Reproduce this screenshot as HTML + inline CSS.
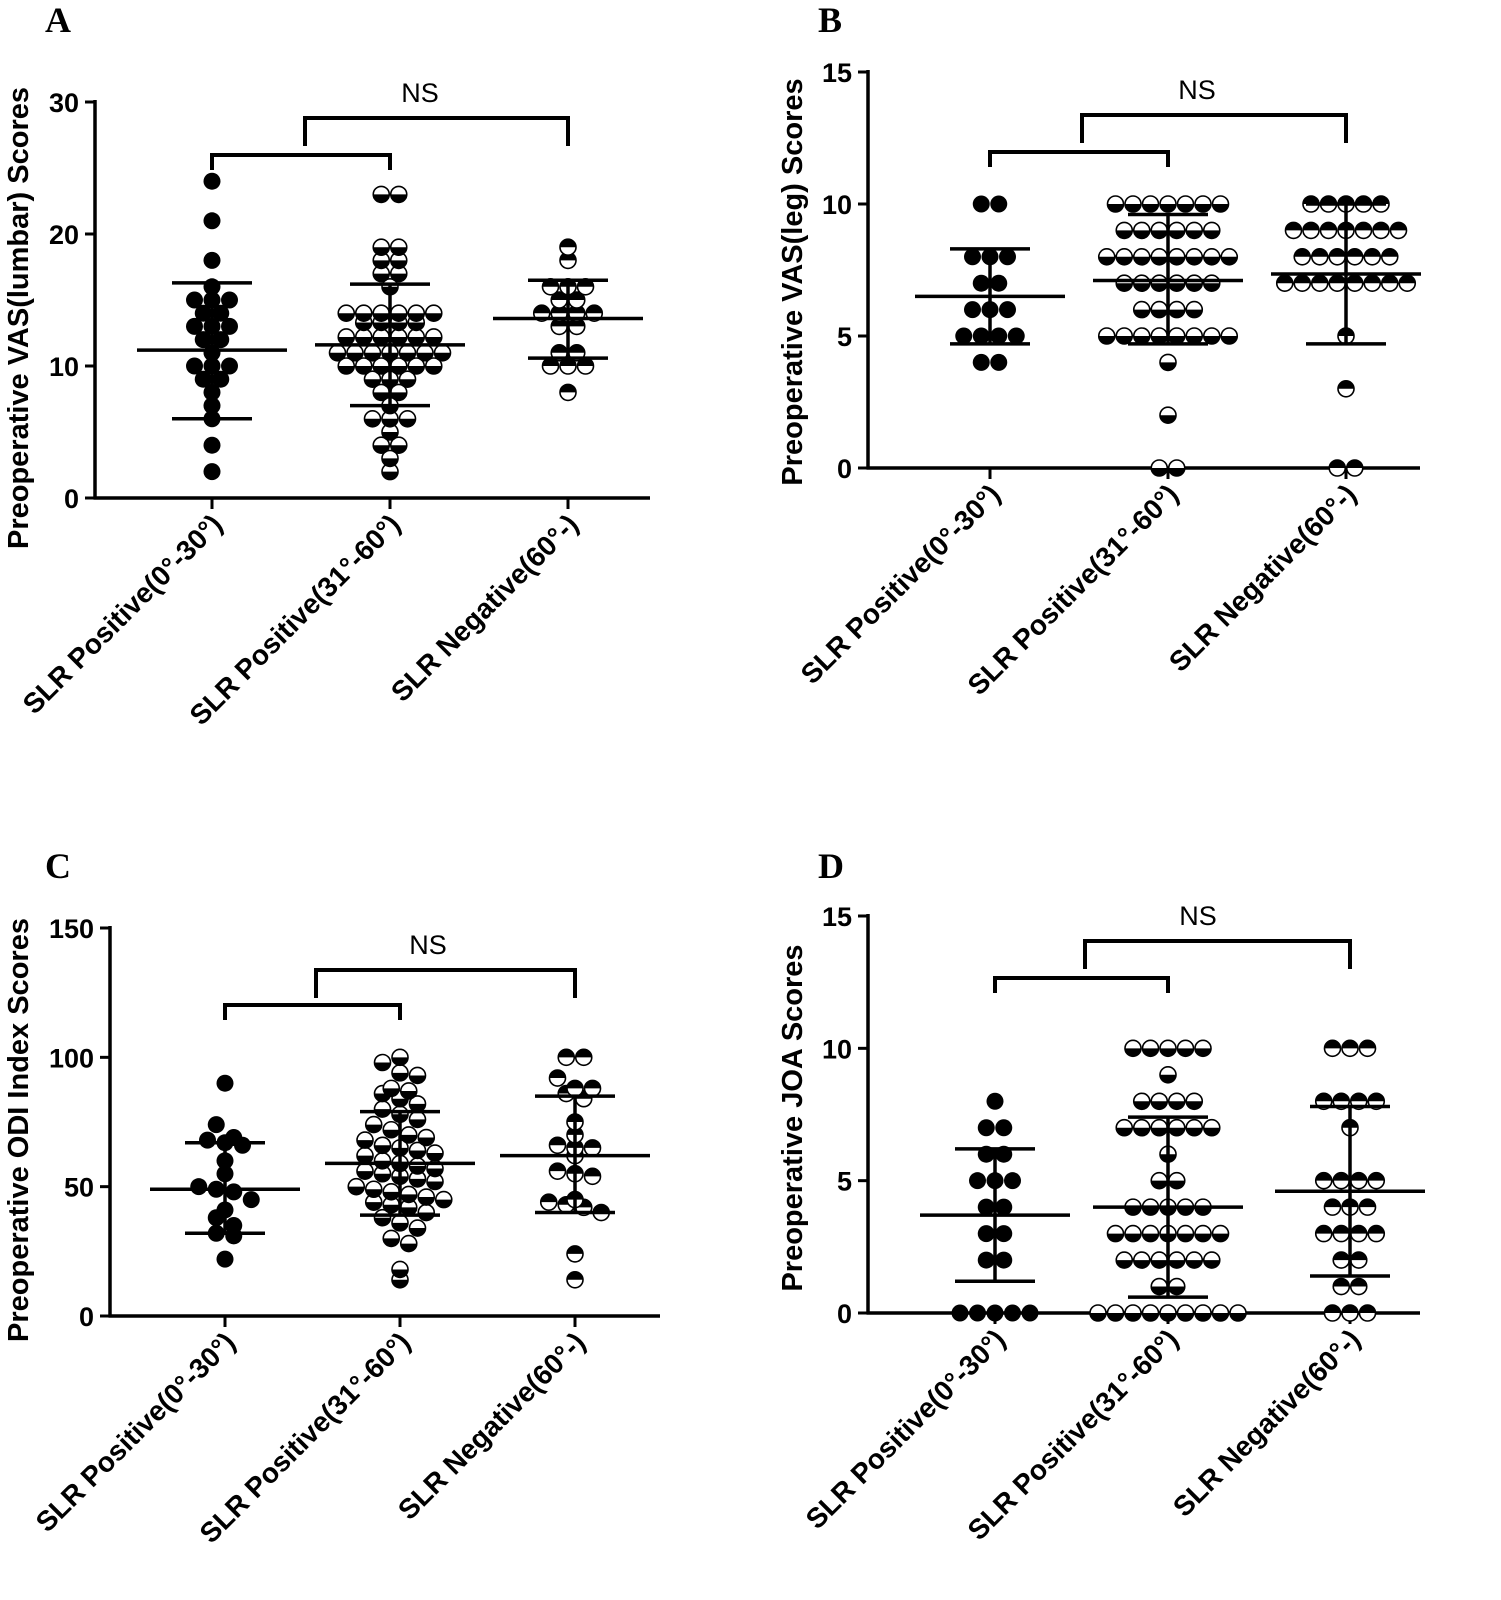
<!DOCTYPE html><html><head><style>body{margin:0;background:#fff}svg{display:block}text{font-family:"Liberation Sans",Arial,sans-serif;font-weight:bold}</style></head><body>
<svg id="s" width="1501" height="1600" viewBox="0 0 1501 1600" xmlns="http://www.w3.org/2000/svg">
<text x="45" y="32" font-size="36" style="font-family:'Liberation Serif',serif">A</text>
<text x="818" y="32" font-size="36" style="font-family:'Liberation Serif',serif">B</text>
<text x="45" y="878" font-size="36" style="font-family:'Liberation Serif',serif">C</text>
<text x="818" y="878" font-size="36" style="font-family:'Liberation Serif',serif">D</text>
<text transform="translate(28,318) rotate(-90)" font-size="29" text-anchor="middle">Preoperative VAS(lumbar) Scores</text>
<text transform="translate(802,282) rotate(-90)" font-size="29" text-anchor="middle">Preoperative VAS(leg) Scores</text>
<text transform="translate(28,1130) rotate(-90)" font-size="29" text-anchor="middle">Preoperative ODI Index Scores</text>
<text transform="translate(802,1118) rotate(-90)" font-size="29" text-anchor="middle">Preoperative JOA Scores</text>
<g id="g"></g>
</svg>
<script>
var g=document.getElementById('g'),NS='http://www.w3.org/2000/svg';
function el(t,a,txt){var e=document.createElementNS(NS,t);for(var k in a)e.setAttribute(k,a[k]);if(txt)e.textContent=txt;g.appendChild(e);return e;}
function line(x1,y1,x2,y2,w){el('line',{x1:x1,y1:y1,x2:x2,y2:y2,stroke:'#000','stroke-width':w||3.5});}
function rep(v,n){var a=[];for(var i=0;i<n;i++)a.push(v);return a;}
function panel(P){
 var y=function(v){return P.y0+(P.y1-P.y0)*v/P.max;};
 line(P.ax,P.y1-2,P.ax,y(0)+1.5);line(P.ax-1.5,y(0),P.xe,y(0));
 P.ticks.forEach(function(t){line(P.ax-10,y(t),P.ax,y(t),3);el('text',{x:P.ax-16,y:y(t)+10,'font-size':27,'text-anchor':'end'},String(t));});
 var labs=['SLR Positive(0°-30°)','SLR Positive(31°-60°)','SLR Negative(60°-)'];
 P.gx.forEach(function(gx,i){line(gx,y(0),gx,y(0)+11,3);
  el('text',{transform:'translate('+(gx+12)+','+(y(0)+28)+') rotate(-45)','font-size':28,'text-anchor':'end'},labs[i]);
  var d=P.data[i],bins={};
  d.forEach(function(v){var b=Math.round(v/P.bin);(bins[b]=bins[b]||[]).push(v);});
  for(var b in bins){var arr=bins[b],n=arr.length;arr.forEach(function(v,j){var cx=gx+(j-(n-1)/2)*17.5,cy=y(v);
   if(i==0)el('circle',{cx:cx,cy:cy,r:8.5,fill:'#000'});
   else{el('circle',{cx:cx,cy:cy,r:8,fill:'#fff',stroke:'#000','stroke-width':1.6});
    var s=i==1?0:1; el('path',{d:'M'+(cx-8)+','+cy+' A8,8 0 0,'+s+' '+(cx+8)+','+cy+' Z',fill:'#000'});}
  });}
  var m=P.m[i];line(gx-75,y(m[0]),gx+75,y(m[0]),3.5);line(gx,y(m[1]),gx,y(m[2]),3.5);line(gx-40,y(m[1]),gx+40,y(m[1]),3.5);line(gx-40,y(m[2]),gx+40,y(m[2]),3.5);
 });
 var B=P.br;
 el('path',{d:'M'+P.gx[0]+','+(B[0]+15)+'V'+B[0]+'H'+P.gx[1]+'V'+(B[0]+15),fill:'none',stroke:'#000','stroke-width':4});
 el('path',{d:'M'+B[2]+','+(B[1]+28)+'V'+B[1]+'H'+P.gx[2]+'V'+(B[1]+28),fill:'none',stroke:'#000','stroke-width':4});
 el('text',{x:B[3],y:B[1]-16,'font-size':27,'text-anchor':'middle',style:'font-weight:normal'},'NS');
}
panel({ax:95,y0:498,y1:102,max:30,xe:650,ticks:[0,10,20,30],gx:[212,390,568],bin:1,
 data:[[24,21,18,16,15,15,15,14,14,13,13,13,12,12,11,10,10,10,9,9,8,7,6,4,2],
 [23,23,19,19,18,18,17,17,16,14,14,14,14,14,14,13.3,13.3,13.3,13.3,12.2,12.2,12.2,12.2,12.2,12.2,11,11,11,11,11,11,11,10,10,10,10,10,10,9,9,9,8,8,7,6,6,6,5,4,4,3,2],
 [19,18,16,16,16,15,15,14,14,14,14,13,13,11,11,10,10,10,8]],
 m:[[11.2,6,16.3],[11.6,7,16.2],[13.6,10.6,16.5]],br:[155,118,305,420]});
panel({ax:868,y0:468,y1:72,max:15,xe:1420,ticks:[0,5,10,15],gx:[990,1168,1346],bin:1,
 data:[[10,10,8,8,8,7,7,6,6,5,5,5,5,4,4,6],
 rep(10,7).concat(rep(9,6),rep(8,8),rep(7,6),rep(6,4),rep(5,8),[4,2,0,0]),
 rep(10,5).concat(rep(9,7),rep(8,6),rep(7,8),[5,3,0,0])],
 m:[[6.5,4.7,8.3],[7.1,4.7,9.6],[7.35,4.7,10]],br:[152,115,1082,1197]});
panel({ax:110,y0:1316,y1:928,max:150,xe:660,ticks:[0,50,100,150],gx:[225,400,575],bin:6,
 data:[[90,74,69,68,67,66,60,55,50,49,48,45,41,38,35,32,31,22],
 [100,98,94,93,88,87,86,84,82,80,78,76,74,72,70,69,68,66,65,64,63,62,60,59,58,57,56,55,54,53,52,50,49,48,47,46,45,44,43,42,40,38,36,34,30,28,18,14],
 [100,100,92,88,88,86,84,75,70,66,65,65,62,56,55,54,45,44,43,42,40,24,14]],
 m:[[49,32,67],[59,39,79],[62,40,85]],br:[1005,970,316,428]});
panel({ax:868,y0:1313,y1:916,max:15,xe:1420,ticks:[0,5,10,15],gx:[995,1168,1350],bin:1,
 data:[[8,7,7,6,6,5,5,5,4,4,3,3,2,2,0,0,0,0,0],
 rep(10,5).concat([9],rep(8,4),rep(7,6),[6],rep(5,2),rep(4,5),rep(3,7),rep(2,6),[1,1],rep(0,9)),
 rep(10,3).concat(rep(8,4),[7],rep(5,4),rep(4,3),rep(3,4),[2,2,1,1,0,0,0])],
 m:[[3.7,1.2,6.2],[4.0,0.6,7.4],[4.6,1.4,7.8]],br:[978,941,1085,1198]});
</script>
</body></html>
